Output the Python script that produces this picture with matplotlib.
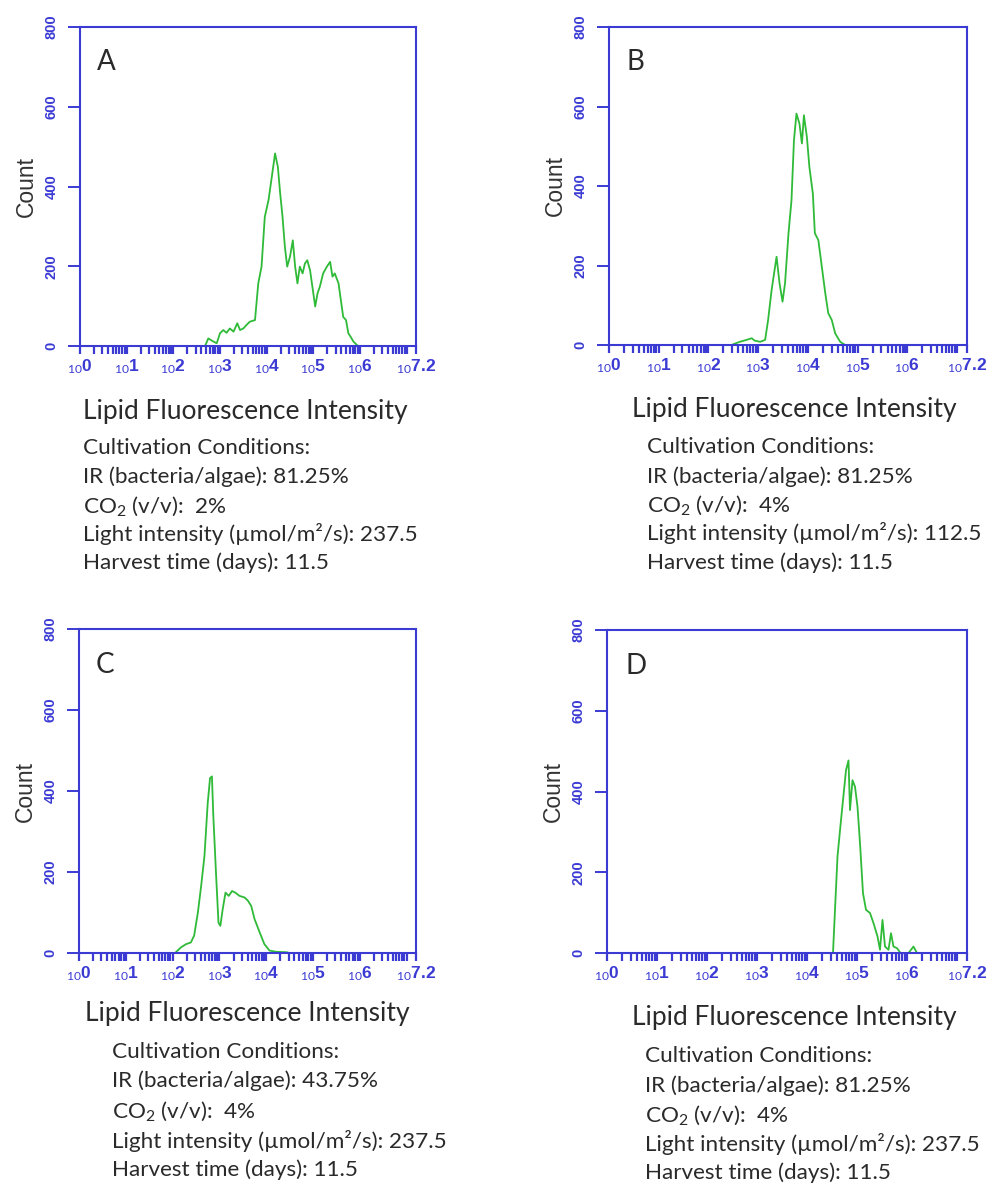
import numpy as np
import matplotlib
matplotlib.use("Agg")
import matplotlib.pyplot as plt

plt.rcParams['mathtext.fontset'] = 'custom'
plt.rcParams['mathtext.rm'] = 'Lato'
plt.rcParams['mathtext.it'] = 'Lato:italic'
plt.rcParams['mathtext.bf'] = 'Lato:bold'

# ---------------- data (x in log10 intensity, y = count) ----------------
a_logx = [2.68, 2.75, 2.86, 2.93, 3.00, 3.07, 3.14, 3.21, 3.29, 3.37, 3.43, 3.50, 3.57, 3.64,
          3.75, 3.82, 3.89, 3.96, 4.04, 4.11, 4.18, 4.24, 4.29, 4.34, 4.39, 4.44, 4.50, 4.56,
          4.61, 4.66, 4.71, 4.77, 4.82, 4.87, 4.93, 4.99, 5.04, 5.09, 5.14, 5.21, 5.29, 5.36,
          5.41, 5.46, 5.54, 5.59, 5.64, 5.70, 5.75, 5.80, 5.86, 5.93, 5.96]
a_count = [0, 19, 11, 7, 32, 40, 33, 44, 36, 57, 40, 44, 53, 61,
           65, 157, 199, 324, 366, 424, 483, 449, 382, 324, 249, 199, 224, 265,
           199, 157, 199, 182, 207, 215, 190, 140, 99, 132, 149, 182, 199, 211,
           174, 182, 157, 115, 73, 65, 32, 23, 11, 3, 0]

b_logx = [2.50, 2.63, 2.77, 2.87, 2.93, 3.04, 3.14, 3.20, 3.27, 3.34, 3.37, 3.43, 3.49, 3.54,
          3.61, 3.67, 3.72, 3.77, 3.83, 3.88, 3.92, 3.98, 4.03, 4.10, 4.14, 4.21, 4.28, 4.35,
          4.41, 4.48, 4.55, 4.65, 4.75]
b_count = [2, 8, 13, 17, 11, 8, 13, 63, 138, 197, 222, 155, 109, 155,
           281, 364, 515, 582, 557, 507, 578, 523, 448, 381, 281, 264, 197, 130,
           80, 63, 29, 8, 0]

c_logx = [2.07, 2.18, 2.29, 2.39, 2.46, 2.54, 2.61, 2.68, 2.75, 2.80, 2.84, 2.87, 2.93, 2.98,
          3.02, 3.07, 3.13, 3.20, 3.27, 3.34, 3.43, 3.54, 3.61, 3.68, 3.75, 3.86, 3.96, 4.07,
          4.21, 4.43, 4.50]
c_count = [2, 14, 22, 26, 43, 100, 166, 239, 370, 432, 436, 338, 190, 75,
           67, 108, 149, 141, 153, 149, 141, 137, 129, 116, 84, 51, 22, 6,
           3, 2, 0]

d_logx = [4.52, 4.56, 4.61, 4.68, 4.74, 4.78, 4.83, 4.86, 4.91, 4.96, 5.01, 5.06, 5.12, 5.18,
          5.26, 5.33, 5.41, 5.46, 5.51, 5.56, 5.63, 5.68, 5.73, 5.80, 5.87, 6.03, 6.13, 6.20]
d_count = [0, 107, 239, 329, 403, 453, 477, 354, 428, 412, 362, 272, 148, 107,
           99, 74, 41, 8, 82, 16, 8, 49, 16, 12, 0, 0, 16, 0]

panel_letters = ["A", "B", "C", "D"]
xlabel = "Lipid Fluorescence Intensity"
cond_title = "Cultivation Conditions:"
ir_values = ["81.25%", "81.25%", "43.75%", "81.25%"]
co2_values = ["2%", "4%", "4%", "4%"]
light_values = ["237.5", "112.5", "237.5", "237.5"]
harvest_values = ["11.5", "11.5", "11.5", "11.5"]

y_ticks = [0, 200, 400, 600, 800]
x_decades = [0, 1, 2, 3, 4, 5, 6, 7]
x_max = 7.2

# ---------------- layout ----------------
W, H = 994, 1185
fig = plt.figure(figsize=(W / 100, H / 100), dpi=100)

BLUE = '#3b3bd4'
GREEN = '#2fba38'
TXT = '#2a2a2a'

# axes boxes in pixels: left, top, right, bottom
boxes = [(80, 27, 416, 346), (609, 27, 967, 345), (79, 629, 416, 953), (607, 630, 967, 953)]
# text anchor pixels: (lipid x, lipid y, cond x, [line ys])
texts = [
    (83, 411, 83, [448, 477, 506, 534, 563]),
    (632, 409, 647, [447, 477, 505, 533, 563]),
    (85, 1014, 112, [1052, 1081, 1111, 1141, 1170]),
    (632, 1018, 645, [1056, 1086, 1115, 1144, 1173]),
]
series = [(a_logx, a_count), (b_logx, b_count), (c_logx, c_count), (d_logx, d_count)]

minor = [n + np.log10(k) for n in range(7) for k in range(2, 10)]
major = x_decades + [x_max]
major_labels = [r'$_{10}$' + str(d) for d in x_decades[:-1]] + ['', r'$_{10}$' + '7.2']

def px(x, y):
    return x / W, 1 - y / H

for i, (l, t, r, b) in enumerate(boxes):
    ax = fig.add_axes([l / W, 1 - b / H, (r - l) / W, (b - t) / H])
    lx, cy = series[i]
    ax.plot(lx, cy, color=GREEN, lw=1.3)
    ax.set_xlim(0, x_max)
    ax.set_ylim(0, 800)
    for s in ax.spines.values():
        s.set_color(BLUE)
        s.set_linewidth(1.5)
    ax.set_yticks(y_ticks)
    ax.set_yticklabels([str(v) for v in y_ticks], rotation=90, va='center',
                       color=BLUE, fontsize=10.5, family='Liberation Sans',
                       fontweight='bold')
    ax.tick_params(axis='y', direction='out', length=8.5, width=1.4, color=BLUE, pad=7)
    ax.set_xticks(major)
    ax.set_xticklabels(major_labels, color=BLUE, fontsize=12.5, family='Liberation Sans',
                       fontweight='bold')
    ax.set_xticks(minor, minor=True)
    ax.tick_params(axis='x', which='both', direction='out', length=6, width=1.6,
                   color=BLUE, pad=2)
    ax.set_ylabel("Count", fontsize=16.5, color='#333333', family='Liberation Sans', labelpad=5)
    ax.text(0.05, 0.89, panel_letters[i], transform=ax.transAxes, fontsize=20,
            family='Lato', color=TXT, va='center', ha='left')

    lxp, lyp, cxp, lines = texts[i]
    fig.text(*px(lxp, lyp), xlabel, fontsize=19, family='Lato', color=TXT,
             ha='left', va='center')
    contents = [
        cond_title,
        "IR (bacteria/algae): " + ir_values[i],
        r"CO$_\mathregular{2}$ (v/v):  " + co2_values[i],
        "Light intensity (µmol/m²/s): " + light_values[i],
        "Harvest time (days): " + harvest_values[i],
    ]
    for yy, s in zip(lines, contents):
        fig.text(*px(cxp, yy), s, fontsize=16.2, family='Lato', color=TXT,
                 ha='left', va='center')

fig.savefig("out.png", dpi=100)
